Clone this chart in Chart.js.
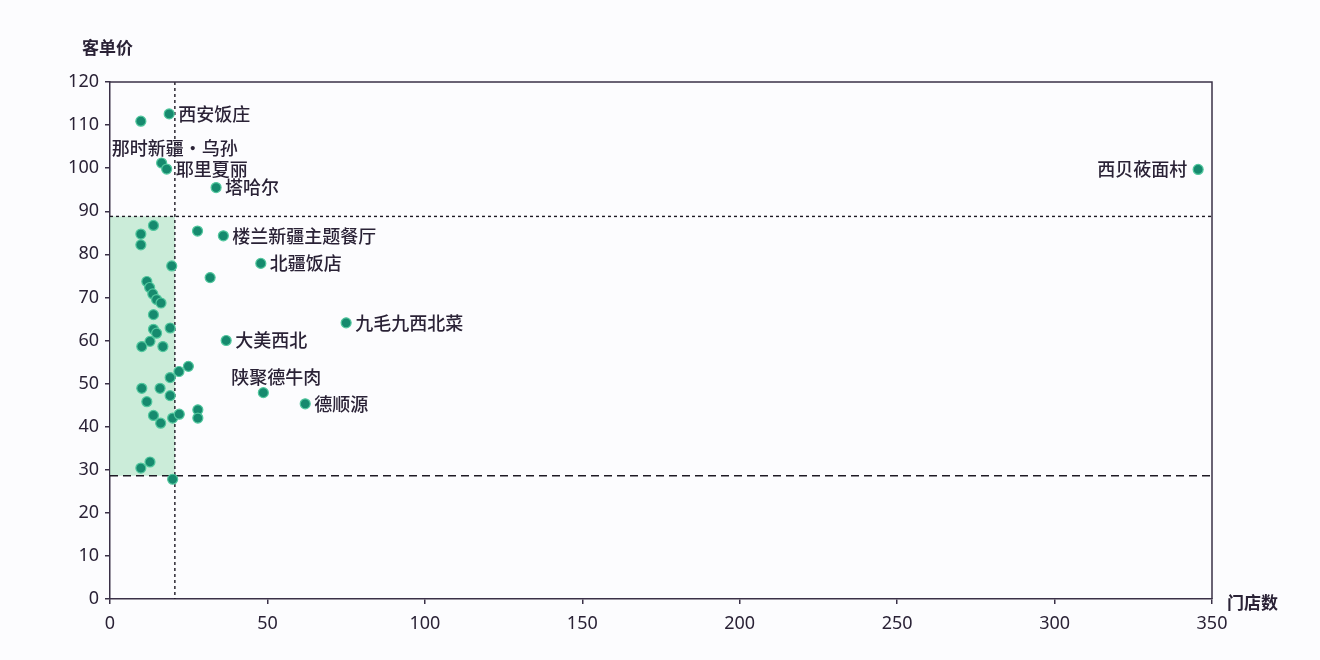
<!DOCTYPE html>
<html>
<head>
<meta charset="utf-8">
<script src="https://cdn.jsdelivr.net/npm/chart.js@4.4.1/dist/chart.umd.min.js"></script>
<style>
  html, body { margin: 0; padding: 0; background: #fcfcfe; }
  canvas { display: block; }
</style>
</head>
<body>
<canvas id="chart" width="1320" height="660" style="width:1320px;height:660px"></canvas>
<script>
// 带名字的门店
const names  = ['西安饭庄', '那时新疆·乌孙', '耶里夏丽', '塔哈尔', '楼兰新疆主题餐厅', '北疆饭店',
                '九毛九西北菜', '大美西北', '陕聚德牛肉', '德顺源', '西贝莜面村'];
const stores = [18.8, 16.4, 18.0, 33.7, 36.0, 47.9, 75.0, 36.9, 48.7, 62.0, 345.6];
const prices = [112.6, 101.2, 99.8, 95.5, 84.3, 77.9, 64.1, 60.0, 47.9, 45.3, 99.7];

// 其它门店 (无标签)
const otherStores = [9.8, 13.8, 9.8, 9.8, 27.8, 19.6, 31.8,
                     11.7, 12.6, 13.6, 14.8, 16.2, 13.8,
                     13.8, 14.8, 12.7, 19.1, 10.1, 16.8,
                     24.9, 21.9, 19.1, 10.1, 15.9, 19.1, 11.7, 13.8, 16.1, 19.9, 22.0, 27.9, 27.9,
                     9.8, 12.7, 19.9];
const otherPrices = [110.9, 86.7, 84.7, 82.2, 85.4, 77.3, 74.6,
                     73.7, 72.3, 70.8, 69.5, 68.7, 66.0,
                     62.6, 61.7, 59.8, 62.9, 58.6, 58.6,
                     54.0, 52.8, 51.4, 48.9, 48.9, 47.2, 45.8, 42.6, 40.8, 42.0, 42.9, 43.9, 42.0,
                     30.4, 31.8, 27.8];

// 参考线
const avgStores = 20.6;
const highPrice = 88.8;
const lowPrice = 28.6;

const xTicks = [0, 50, 100, 150, 200, 250, 300, 350];
const yTicks = [0, 10, 20, 30, 40, 50, 60, 70, 80, 90, 100, 110, 120];

// 标签位置: r = 右侧, l = 左侧, t = 上方
const placement = ['r', 't', 'r', 'r', 'r', 'r', 'r', 'r', 't', 'r', 'l'];

const axisColor = '#3a3047';
const textColor = '#2a2236';
const cjk = '"Noto Sans CJK SC", "Noto Sans", sans-serif';

let points = [];
stores.forEach((x, i) => points.push({x: x, y: prices[i], label: names[i], pos: placement[i]}));
otherStores.forEach((x, i) => points.push({x: x, y: otherPrices[i]}));

const decor = {
  id: 'decor',
  beforeDatasetsDraw(chart) {
    const ctx = chart.ctx;
    const xs = chart.scales.x, ys = chart.scales.y;
    const a = chart.chartArea;
    ctx.save();
    // 绿色区域
    ctx.fillStyle = 'rgba(176, 228, 196, 0.65)';
    const x0 = xs.getPixelForValue(0), x1 = xs.getPixelForValue(avgStores);
    const y0 = ys.getPixelForValue(highPrice), y1 = ys.getPixelForValue(lowPrice);
    ctx.fillRect(x0, y0, x1 - x0, y1 - y0);

    ctx.strokeStyle = '#1e1a24';
    ctx.lineWidth = 1.4;
    // 竖线
    ctx.setLineDash([3, 3]);
    ctx.beginPath();
    ctx.moveTo(x1, a.top);
    ctx.lineTo(x1, a.bottom);
    ctx.stroke();
    // 上横线
    ctx.beginPath();
    ctx.moveTo(a.left, y0);
    ctx.lineTo(a.right, y0);
    ctx.stroke();
    // 下横线
    ctx.setLineDash([8, 5]);
    ctx.beginPath();
    ctx.moveTo(a.left, y1);
    ctx.lineTo(a.right, y1);
    ctx.stroke();
    ctx.restore();
  },
  afterDatasetsDraw(chart) {
    const ctx = chart.ctx;
    const xs = chart.scales.x, ys = chart.scales.y;
    const a = chart.chartArea;
    ctx.save();
    // 外框 (上, 右)
    ctx.strokeStyle = axisColor;
    ctx.lineWidth = 1.5;
    ctx.beginPath();
    ctx.moveTo(a.left, a.top);
    ctx.lineTo(a.right, a.top);
    ctx.lineTo(a.right, a.bottom);
    ctx.stroke();

    // 点的标签
    ctx.fillStyle = textColor;
    ctx.font = '500 18px ' + cjk;
    ctx.textBaseline = 'middle';
    points.forEach(p => {
      if (!p.label) return;
      const px = xs.getPixelForValue(p.x), py = ys.getPixelForValue(p.y);
      if (p.pos === 'r') {
        ctx.textAlign = 'left';
        ctx.fillText(p.label, px + 9, py);
      } else if (p.pos === 'l') {
        ctx.textAlign = 'right';
        ctx.fillText(p.label, px - 11, py);
      } else {
        ctx.textAlign = 'center';
        ctx.fillText(p.label, px + 13, py - 15);
      }
    });

    // 坐标轴标题
    ctx.font = 'bold 17px ' + cjk;
    ctx.textAlign = 'left';
    ctx.fillText('客单价', 82, 48);
    ctx.fillText('门店数', 1227, 603);
    ctx.restore();
  }
};

new Chart(document.getElementById('chart').getContext('2d'), {
  type: 'scatter',
  data: {
    datasets: [{
      data: points,
      backgroundColor: '#168a6e',
      borderColor: '#52c79e',
      borderWidth: 1.2,
      pointRadius: 5,
      pointHoverRadius: 5
    }]
  },
  options: {
    responsive: false,
    animation: false,
    devicePixelRatio: 1,
    layout: {padding: {top: 82, right: 108, left: 0, bottom: 0}},
    plugins: {legend: {display: false}, tooltip: {enabled: false}},
    scales: {
      x: {
        type: 'linear',
        min: 0,
        max: 350,
        afterBuildTicks: s => { s.ticks = xTicks.map(v => ({value: v})); },
        afterFit: s => { s.height = 61; },
        ticks: {color: textColor, font: {size: 18, family: '"Noto Sans", sans-serif'}, padding: 9},
        grid: {drawOnChartArea: false, tickLength: 5, color: axisColor, lineWidth: 1.5},
        border: {color: axisColor, width: 1.5}
      },
      y: {
        type: 'linear',
        min: 0,
        max: 120,
        afterBuildTicks: s => { s.ticks = yTicks.map(v => ({value: v})); },
        afterFit: s => { s.width = 110; },
        ticks: {color: textColor, font: {size: 18, family: '"Noto Sans", sans-serif'}, padding: 6},
        grid: {drawOnChartArea: false, tickLength: 5, color: axisColor, lineWidth: 1.5},
        border: {color: axisColor, width: 1.5}
      }
    }
  },
  plugins: [decor]
});
</script>
</body>
</html>
